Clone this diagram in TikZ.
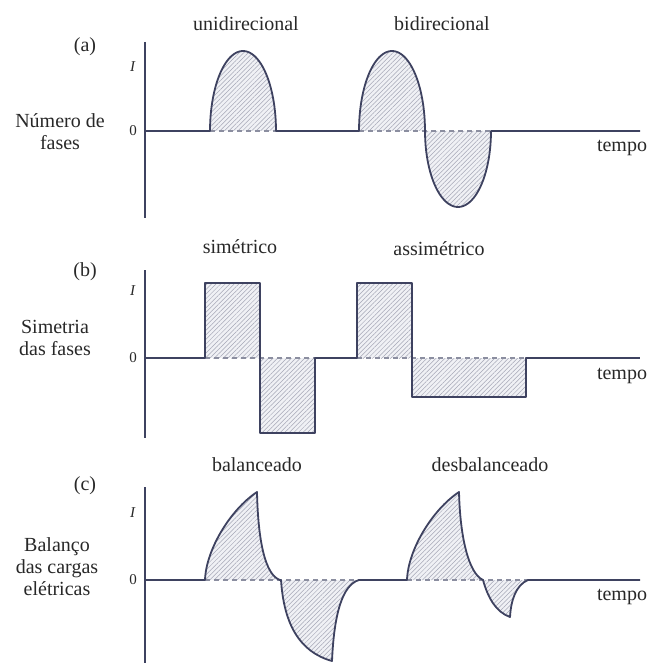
\documentclass[tikz,border=0pt]{standalone}
\usepackage{fontspec}
\setmainfont{Liberation Serif}
\usetikzlibrary{patterns.meta}
\definecolor{wave}{RGB}{62,66,96}
\definecolor{hatchbg}{RGB}{240,241,245}
\definecolor{hatchln}{RGB}{165,167,182}
\definecolor{txt}{RGB}{40,40,40}
\begin{document}
\begin{tikzpicture}[x=1pt,y=-1pt,
  wavel/.style={draw=wave,line width=1.8pt,line join=round},
  axisl/.style={draw=wave,line width=1.8pt},
  zerol/.style={draw=wave!60,line width=1.1pt,dash pattern=on 5pt off 4pt},
  hatch/.style={preaction={fill=hatchbg},pattern={Lines[angle=45,distance=3.2pt,line width=0.5pt]},pattern color=hatchln},
  lbl/.style={text=txt,font=\fontsize{20}{22}\selectfont,inner sep=0pt},
  ticklbl/.style={text=txt,font=\fontsize{15}{17}\selectfont,inner sep=0pt},
  side/.style={lbl,align=center}]
\useasboundingbox (0,0) rectangle (656,663);

% ---------------- panel (a)
\fill[hatch] plot[domain=0:180,samples=50] ({243-33*cos(\x)},{131-80*sin(\x)}) -- cycle;
\fill[hatch] plot[domain=0:180,samples=50] ({392-33*cos(\x)},{131-80*sin(\x)}) -- cycle;
\fill[hatch] plot[domain=0:180,samples=50] ({458-33*cos(\x)},{131+76*sin(\x)}) -- cycle;
\draw[zerol] (210,131) -- (276,131);
\draw[zerol] (359,131) -- (491,131);
\draw[wavel] (145,131) -- (210,131)
  -- plot[domain=0:180,samples=50] ({243-33*cos(\x)},{131-80*sin(\x)})
  -- (359,131)
  -- plot[domain=0:180,samples=50] ({392-33*cos(\x)},{131-80*sin(\x)})
  -- plot[domain=0:180,samples=50] ({458-33*cos(\x)},{131+76*sin(\x)})
  -- (640,131);
\draw[axisl] (145,42) -- (145,218);

% ---------------- panel (b)
\fill[hatch] (205,358) rectangle (260,283);
\fill[hatch] (260,358) rectangle (315,433);
\fill[hatch] (357,358) rectangle (412,283);
\fill[hatch] (412,358) rectangle (526,397);
\draw[zerol] (205,358) -- (315,358);
\draw[zerol] (357,358) -- (526,358);
\draw[wavel] (145,358) -- (205,358) -- (205,283) -- (260,283) -- (260,433)
  -- (315,433) -- (315,358) -- (357,358) -- (357,283) -- (412,283)
  -- (412,397) -- (526,397) -- (526,358) -- (640,358);
\draw[axisl] (145,270) -- (145,438);

% ---------------- panel (c)
\fill[hatch] (205,580) .. controls (206,550) and (230,510) .. (257,492)
  .. controls (258,540) and (265,575) .. (280,580) -- cycle;
\fill[hatch] (281,580) .. controls (284,625) and (300,652) .. (332,661)
  .. controls (334,615) and (342,585) .. (359,580) -- cycle;
\fill[hatch] (407,580) .. controls (408,550) and (432,510) .. (459,492)
  .. controls (460,535) and (468,573) .. (483,580) -- cycle;
\fill[hatch] (483,580) .. controls (488,598) and (496,612) .. (510,617)
  .. controls (511,600) and (516,585) .. (528,580) -- cycle;
\draw[zerol] (205,580) -- (359,580);
\draw[zerol] (407,580) -- (528,580);
\draw[wavel] (145,580) -- (205,580)
  .. controls (206,550) and (230,510) .. (257,492)
  .. controls (258,540) and (265,575) .. (280,580) -- (281,580)
  .. controls (284,625) and (300,652) .. (332,661)
  .. controls (334,615) and (342,585) .. (359,580) -- (407,580)
  .. controls (408,550) and (432,510) .. (459,492)
  .. controls (460,535) and (468,573) .. (483,580)
  .. controls (488,598) and (496,612) .. (510,617)
  .. controls (511,600) and (516,585) .. (528,580) -- (640,580);
\draw[axisl] (145,487) -- (145,663);

% ---------------- labels
\node[lbl] (la) at (85,47) {(a)};
\node[lbl] (lb) at (85,272) {(b)};
\node[lbl] (lc) at (85,486) {(c)};
\node[lbl] (uni) at (246,24) {unidirecional};
\node[lbl] (bid) at (442,24) {bidirecional};
\node[lbl] (sim) at (240,247) {simétrico};
\node[lbl] (asim) at (439,249) {assimétrico};
\node[lbl] (bal) at (257,465) {balanceado};
\node[lbl] (desb) at (490,465) {desbalanceado};
\node[lbl] (ta) at (622,148) {tempo};
\node[lbl] (tb) at (622,376) {tempo};
\node[lbl] (tc) at (622,597) {tempo};
\node[side] (sa) at (60,132) {Número de\\fases};
\node[side] (sb) at (55,338) {Simetria\\das fases};
\node[side] (sc) at (57,567) {Balanço\\das cargas\\elétricas};
\node[ticklbl] (ia) at (133,67) {\textit{I}};
\node[ticklbl] (ib) at (133,291) {\textit{I}};
\node[ticklbl] (ic) at (133,513) {\textit{I}};
\node[ticklbl] (za) at (133,131) {0};
\node[ticklbl] (zb) at (133,358) {0};
\node[ticklbl] (zc) at (133,580) {0};
\end{tikzpicture}
\end{document}
